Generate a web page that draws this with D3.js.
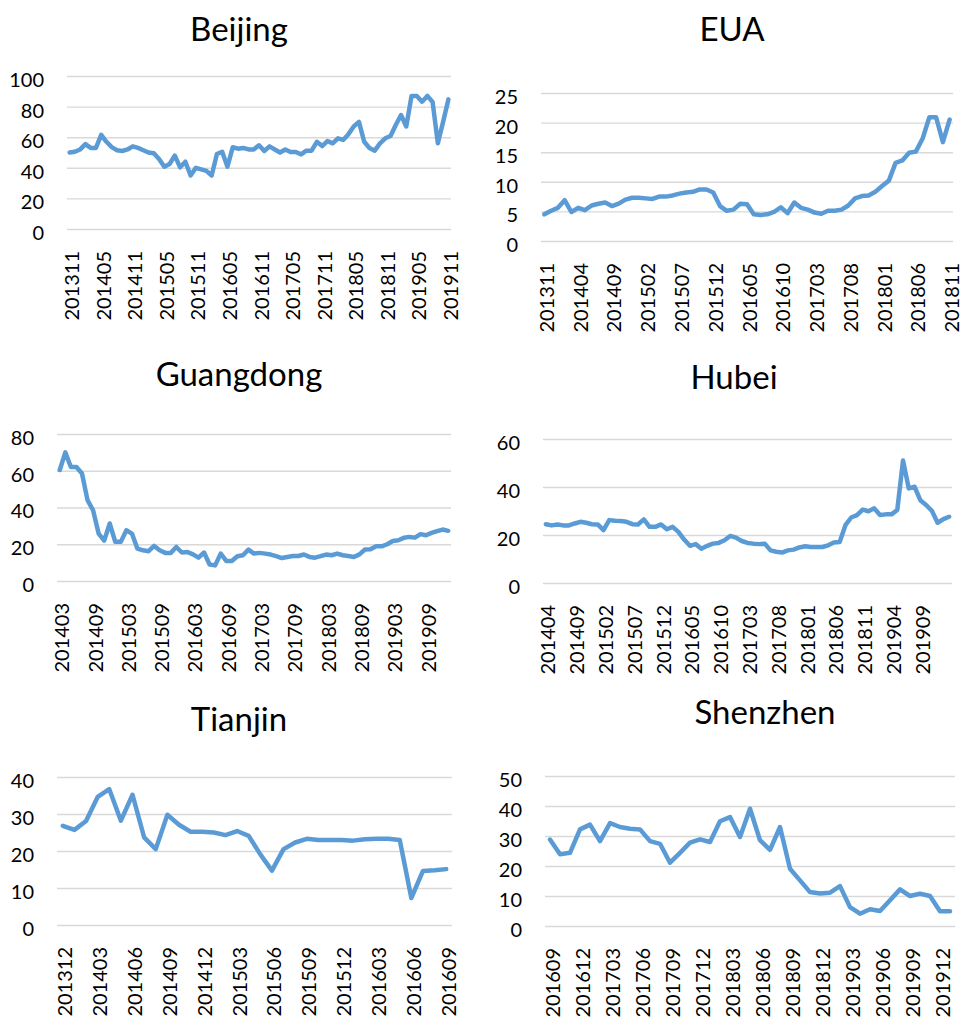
<!DOCTYPE html>
<html>
<head>
<meta charset="utf-8">
<script src="https://cdn.jsdelivr.net/npm/d3@7"></script>
<style>
  body { margin: 0; background: #fff; }
  svg { display: block; }
  text { font-family: Lato, "Open Sans", sans-serif; fill: #000; }
</style>
</head>
<body>
<svg id="chart" width="962" height="1020"></svg>
<script>
// Monthly series, one value per month
const beijingValues = [50, 50.5, 52, 55.5, 53, 53, 61.5, 57, 53.5, 51.5, 51, 52, 54, 53, 51.5, 50, 49.5, 45.7, 40.7, 42.5,
  48, 40.3, 44, 35, 40, 39, 38, 35, 49, 50.5, 40.7, 53.4, 52.5, 53, 52, 52, 54.7, 51, 54, 52,
  50, 52, 50.3, 50.3, 48.8, 51.2, 51.2, 57, 54.2, 57.5, 56, 59.3, 58.2, 62, 67, 70, 57, 53, 51.2, 56,
  59.3, 60.8, 68, 74.5, 67, 87, 87, 83.2, 87, 83, 56, 70, 84.7];
const euaValues = [4.5, 5.1, 5.6, 6.9, 4.9, 5.6, 5.2, 6, 6.3, 6.5, 5.9, 6.3, 7, 7.3, 7.3, 7.2, 7.1, 7.5, 7.5, 7.7,
  8, 8.2, 8.3, 8.7, 8.7, 8.2, 5.9, 5.1, 5.3, 6.3, 6.2, 4.5, 4.4, 4.5, 4.9, 5.7, 4.7, 6.5, 5.6, 5.3,
  4.8, 4.6, 5.1, 5.1, 5.3, 6, 7.2, 7.6, 7.7, 8.3, 9.3, 10.2, 13.2, 13.6, 14.9, 15.1, 17.3, 20.9, 20.9, 16.7, 20.5];
const guangdongValues = [60.4, 70, 62, 62, 58.5, 44, 38.5, 25.8, 22, 31.3, 21.3, 21.3, 27.6, 25.8, 17.6, 16.7, 16.2, 19.1, 16.7, 15.3,
  15.3, 18.5, 15.5, 15.8, 14.5, 12.7, 15.5, 9, 8.5, 14.9, 10.9, 10.9, 13.5, 14, 17.1, 14.9, 15.3, 14.9, 14.4, 13.5,
  12.5, 13.1, 13.6, 13.6, 14.4, 13.1, 12.7, 13.5, 14.4, 14, 14.9, 14, 13.6, 13.1, 14.5, 17.1, 17.3, 18.9, 18.9, 20,
  21.8, 22.2, 23.5, 24, 23.6, 25.5, 24.9, 26.2, 27.1, 28, 27.3];
const hubeiValues = [24.5, 24, 24.4, 24, 24, 24.8, 25.5, 25.1, 24.5, 24.4, 22, 26.2, 25.9, 25.8, 25.5, 24.5, 24.4, 26.5, 23.4, 23.4,
  24.4, 22.4, 23.4, 21.3, 18.1, 15.5, 16.2, 14.3, 15.5, 16.4, 16.7, 17.8, 19.6, 18.9, 17.5, 16.7, 16.4, 16.2, 16.4, 13.6,
  13, 12.7, 13.6, 13.9, 14.8, 15.3, 15, 15, 15, 15.7, 16.9, 17.1, 24.1, 27.3, 28.3, 30.6, 29.9, 31.1, 28.3, 28.6,
  28.6, 30.4, 51, 39.4, 40.1, 34.5, 32.5, 30.1, 25.1, 26.6, 27.6];
const tianjinValues = [26.8, 25.7, 28.1, 34.6, 36.7, 28.2, 35.2, 23.7, 20.5, 29.8, 27.1, 25.2, 25.2, 25, 24.3, 25.4, 24.1,
  19.1, 14.7, 20.5, 22.3, 23.3, 23, 23, 23, 22.8, 23.2, 23.3, 23.3, 23, 7.3, 14.6, 14.8, 15.1];
const shenzhenValues = [28.8, 23.9, 24.4, 32.2, 33.8, 28.3, 34.3, 33, 32.4, 32.2, 28.3, 27.4, 21.1, 24.4, 27.8, 28.9, 28, 34.9, 36.3, 29.7,
  39.1, 28.6, 25.4, 33, 19.1, 15.2, 11.3, 10.8, 11.1, 13.3, 6.3, 4.1, 5.6, 5, 8.6, 12.2, 10, 10.8, 10, 4.9, 4.9];

// Category axis labels shown under each panel
const beijingTicks = ["201311", "201405", "201411", "201505", "201511", "201605", "201611", "201705", "201711", "201805", "201811", "201905", "201911"];
const euaTicks = ["201311", "201404", "201409", "201502", "201507", "201512", "201605", "201610", "201703", "201708", "201801", "201806", "201811"];
const guangdongTicks = ["201403", "201409", "201503", "201509", "201603", "201609", "201703", "201709", "201803", "201809", "201903", "201909"];
const hubeiTicks = ["201404", "201409", "201502", "201507", "201512", "201605", "201610", "201703", "201708", "201801", "201806", "201811", "201904", "201909"];
const tianjinTicks = ["201312", "201403", "201406", "201409", "201412", "201503", "201506", "201509", "201512", "201603", "201606", "201609"];
const shenzhenTicks = ["201609", "201612", "201703", "201706", "201709", "201712", "201803", "201806", "201809", "201812", "201903", "201906", "201909", "201912"];

// Value-axis ticks
const beijingYTicks = [0, 20, 40, 60, 80, 100];
const euaYTicks = [0, 5, 10, 15, 20, 25];
const guangdongYTicks = [0, 20, 40, 60, 80];
const hubeiYTicks = [0, 20, 40, 60];
const tianjinYTicks = [0, 10, 20, 30, 40];
const shenzhenYTicks = [0, 10, 20, 30, 40, 50];

// Consecutive YYYYMM month codes starting from a given month
function monthCodes(start, count) {
  let y = +start.slice(0, 4), m = +start.slice(4, 6);
  const out = [];
  for (let i = 0; i < count; i++) {
    out.push(String(y) + String(m).padStart(2, "0"));
    m++;
    if (m > 12) { m = 1; y++; }
  }
  return out;
}

const panels = [
  { title: "Beijing",   start: "201311", values: beijingValues,   ticks: beijingTicks,   yTicks: beijingYTicks,
    left: 67,  right: 451, top: 76,  bottom: 229, titleX: 239, titleY: 41 },
  { title: "EUA",       start: "201311", values: euaValues,       ticks: euaTicks,       yTicks: euaYTicks,
    left: 541, right: 953, top: 93,  bottom: 241, titleX: 732, titleY: 41 },
  { title: "Guangdong", start: "201403", values: guangdongValues, ticks: guangdongTicks, yTicks: guangdongYTicks,
    left: 57,  right: 451, top: 434, bottom: 581, titleX: 239, titleY: 386 },
  { title: "Hubei",     start: "201404", values: hubeiValues,     ticks: hubeiTicks,     yTicks: hubeiYTicks,
    left: 543, right: 952, top: 439, bottom: 583, titleX: 734, titleY: 389 },
  { title: "Tianjin",   start: "201312", values: tianjinValues,   ticks: tianjinTicks,   yTicks: tianjinYTicks,
    left: 57,  right: 452, top: 777, bottom: 925, titleX: 239, titleY: 731 },
  { title: "Shenzhen",  start: "201609", values: shenzhenValues,  ticks: shenzhenTicks,  yTicks: shenzhenYTicks,
    left: 545, right: 955, top: 776, bottom: 926, titleX: 765, titleY: 724 }
];

const svg = d3.select("#chart");
const LINE_COLOR = "#5B9BD5";
const GRID_COLOR = "#d9d9d9";

panels.forEach(p => {
  const cats = monthCodes(p.start, p.values.length);
  const data = cats.map((c, i) => ({ c, v: p.values[i] }));

  const x = d3.scalePoint().domain(cats).range([p.left, p.right]).padding(0.5);
  const y = d3.scaleLinear().domain([0, d3.max(p.yTicks)]).range([p.bottom, p.top]);

  const g = svg.append("g").attr("class", "panel");

  // title
  g.append("text")
    .attr("x", p.titleX)
    .attr("y", p.titleY)
    .attr("text-anchor", "middle")
    .style("font-size", "33px")
    .text(p.title);

  // value axis with gridlines
  const yAxis = g.append("g")
    .attr("transform", `translate(${p.left},0)`)
    .call(d3.axisLeft(y).tickValues(p.yTicks).tickSize(-(p.right - p.left)).tickPadding(23).tickFormat(d3.format("d")));
  yAxis.select(".domain").remove();
  yAxis.selectAll(".tick line").attr("stroke", GRID_COLOR).attr("stroke-width", 1.4);
  yAxis.selectAll(".tick text")
    .attr("fill", "#000")
    .attr("dy", "0.52em")
    .style("font-size", "20px")
    .style("font-family", "Lato, 'Open Sans', sans-serif");

  // category axis labels, rotated
  const xAxis = g.append("g")
    .attr("transform", `translate(0,${p.bottom})`)
    .call(d3.axisBottom(x).tickValues(p.ticks).tickSize(0));
  xAxis.select(".domain").remove();
  xAxis.selectAll(".tick text")
    .attr("fill", "#000")
    .attr("transform", "rotate(-90)")
    .attr("text-anchor", "end")
    .attr("x", -22)
    .attr("y", 9)
    .attr("dy", 0)
    .style("font-size", "20px")
    .style("font-family", "Lato, 'Open Sans', sans-serif");

  // series line
  const line = d3.line().x(d => x(d.c)).y(d => y(d.v));
  g.append("path")
    .datum(data)
    .attr("fill", "none")
    .attr("stroke", LINE_COLOR)
    .attr("stroke-width", 4.5)
    .attr("stroke-linejoin", "round")
    .attr("stroke-linecap", "round")
    .attr("d", line);
});
</script>
</body>
</html>
